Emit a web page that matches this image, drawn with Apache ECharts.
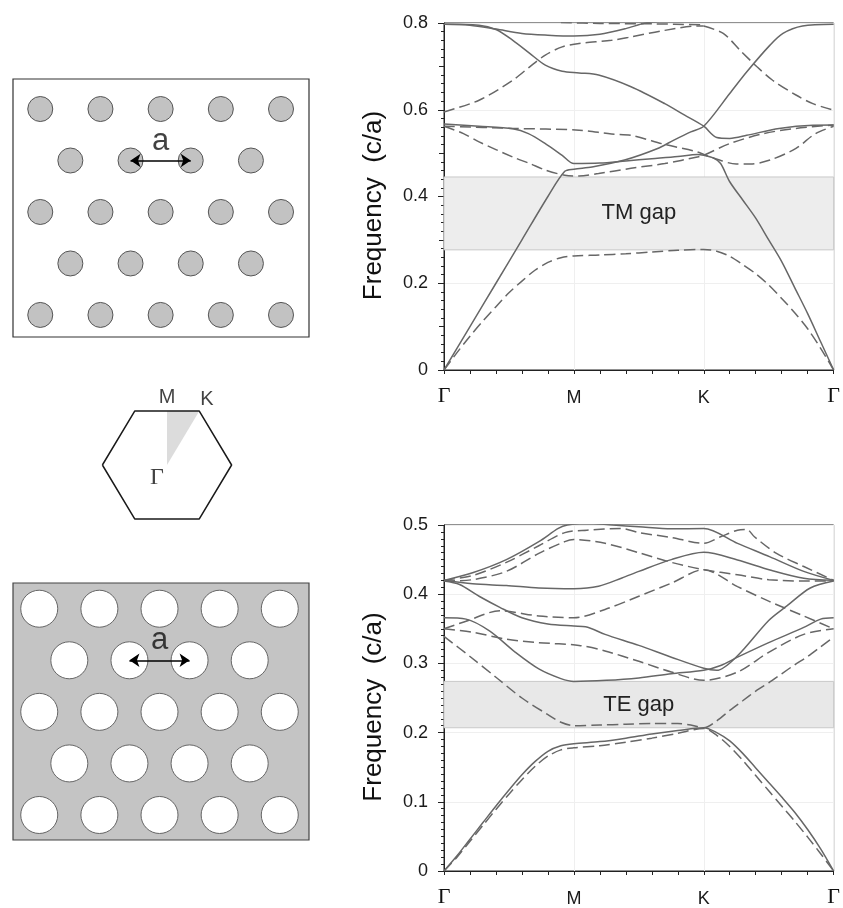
<!DOCTYPE html>
<html>
<head>
<meta charset="utf-8">
<script src="https://cdn.jsdelivr.net/npm/echarts@6/dist/echarts.min.js"></script>
<style>
html,body{margin:0;padding:0;background:#fff;}
#c{width:843px;height:908px;}
</style>
</head>
<body>
<div id="c"></div>
<script>
// ---------- DATA ----------
const pathTicks = ['Γ', 'M', 'K', 'Γ'];
const tmGap = [0.277, 0.445];
const teGap = [0.207, 0.274];

// TM-type plot (dielectric rods) : solid / dashed bands
const rodSolid1 = [[0,0],[0.2,0.1],[0.4,0.2],[0.6,0.3],[0.8,0.4],[0.93,0.458],[1,0.463],[1.14,0.468],[1.39,0.484],[1.64,0.51],[1.77,0.53],[1.9,0.549],[2,0.562],[2.2,0.6375],[2.33,0.687],[2.51,0.749],[2.61,0.776],[2.76,0.793],[3,0.797]];
const rodSolid2 = [[0,0.567],[0.27,0.562],[0.53,0.556],[0.65,0.545],[0.78,0.522],[0.91,0.495],[1,0.476],[1.2,0.477],[1.4,0.482],[1.6,0.487],[1.8,0.492],[1.95,0.497],[2,0.495],[2.08,0.488],[2.13,0.476],[2.2,0.434],[2.3,0.392],[2.4,0.35],[2.5,0.30],[2.6,0.25],[2.7,0.19],[2.8,0.13],[2.9,0.065],[3,0]];
const rodSolid3 = [[0,0.797],[0.27,0.795],[0.4,0.785],[0.53,0.76],[0.66,0.73],[0.78,0.703],[0.91,0.689],[1.04,0.685],[1.19,0.68],[1.44,0.653],[1.7,0.614],[1.85,0.588],[2,0.562],[2.1,0.536],[2.2,0.534],[2.33,0.541],[2.58,0.557],[2.84,0.5645],[3,0.565]];
const rodSolid4 = [[0,0.797],[0.2,0.795],[0.4,0.786],[0.6,0.776],[0.8,0.772],[1,0.77],[1.2,0.774],[1.4,0.787],[1.55,0.8],[1.7,0.805]];
const rodDash1 = [[0,0],[0.1,0.04],[0.2,0.078],[0.3,0.113],[0.4,0.146],[0.5,0.178],[0.6,0.205],[0.7,0.23],[0.8,0.248],[0.9,0.259],[1,0.263],[1.2,0.265],[1.4,0.268],[1.6,0.272],[1.8,0.276],[2,0.278],[2.1,0.274],[2.2,0.262],[2.3,0.243],[2.4,0.222],[2.5,0.196],[2.6,0.165],[2.7,0.132],[2.8,0.095],[2.9,0.05],[3,0]];
const rodDash2 = [[0,0.562],[0.15,0.545],[0.27,0.526],[0.53,0.491],[0.66,0.476],[0.78,0.461],[0.93,0.449],[1.04,0.447],[1.19,0.453],[1.44,0.465],[1.7,0.476],[1.95,0.491],[2,0.495],[2.2,0.522],[2.46,0.545],[2.71,0.557],[3,0.565]];
const rodDash3 = [[0,0.562],[0.53,0.557],[1.04,0.553],[1.29,0.544],[1.44,0.541],[1.7,0.52],[1.95,0.503],[2,0.497],[2.08,0.488],[2.25,0.475],[2.36,0.475],[2.51,0.484],[2.71,0.511],[2.86,0.545],[3,0.562]];
const rodDash4 = [[0,0.595],[0.27,0.622],[0.53,0.668],[0.66,0.699],[0.78,0.726],[0.91,0.745],[1.04,0.753],[1.29,0.76],[1.44,0.768],[1.7,0.783],[1.95,0.793],[2,0.793]];
const rodDash5 = [[2,0.793],[2.15,0.776],[2.28,0.737],[2.41,0.699],[2.53,0.668],[2.71,0.634],[2.84,0.614],[3,0.599]];
const rodDash6 = [[0.9,0.801],[1.2,0.799],[1.6,0.798],[2,0.796]];

// TE-type plot (air holes)
const holeSolid1 = [[0,0],[0.1,0.022],[0.2,0.046],[0.3,0.07],[0.4,0.094],[0.5,0.117],[0.6,0.139],[0.7,0.158],[0.8,0.173],[0.9,0.181],[1,0.184],[1.2,0.187],[1.4,0.192],[1.6,0.198],[1.8,0.203],[2,0.207],[2.1,0.2],[2.2,0.188],[2.3,0.17],[2.4,0.149],[2.5,0.128],[2.6,0.107],[2.7,0.085],[2.8,0.06],[2.9,0.032],[3,0]];
const holeSolid2 = [[0,0.419],[0.12,0.414],[0.27,0.397],[0.43,0.381],[0.6,0.366],[0.8,0.357],[1,0.354],[1.09,0.353],[1.24,0.342],[1.5,0.326],[1.75,0.309],[2,0.293],[2.1,0.29],[2.26,0.311],[2.5,0.362],[2.64,0.383],[2.82,0.409],[3,0.419]];
const holeSolid3 = [[0,0.366],[0.17,0.364],[0.35,0.347],[0.55,0.316],[0.73,0.292],[0.9,0.278],[1,0.274],[1.25,0.2755],[1.5,0.279],[1.75,0.285],[2,0.29],[2.13,0.297],[2.26,0.309],[2.5,0.33],[2.77,0.352],[2.9,0.364],[3,0.366]];
const holeSolid4 = [[0,0.42],[0.22,0.415],[0.48,0.4125],[0.73,0.409],[1,0.408],[1.19,0.4115],[1.37,0.4235],[1.5,0.433],[1.75,0.45],[2,0.4605],[2.26,0.4495],[2.51,0.435],[2.77,0.423],[3,0.42]];
const holeSolid5 = [[0,0.42],[0.22,0.431],[0.48,0.45],[0.73,0.476],[0.88,0.495],[0.95,0.5],[1.1,0.503],[1.3,0.5],[1.5,0.4975],[1.75,0.4945],[2,0.495],[2.26,0.4735],[2.51,0.454],[2.77,0.433],[3,0.42]];
const holeDash1 = [[0,0],[0.1,0.02],[0.2,0.043],[0.3,0.066],[0.4,0.089],[0.5,0.111],[0.6,0.132],[0.7,0.151],[0.8,0.166],[0.9,0.175],[1,0.178],[1.2,0.181],[1.4,0.186],[1.6,0.192],[1.8,0.199],[2,0.206],[2.1,0.196],[2.2,0.18],[2.3,0.16],[2.4,0.138],[2.5,0.116],[2.6,0.094],[2.7,0.072],[2.8,0.049],[2.9,0.025],[3,0]];
const holeDash2 = [[0,0.339],[0.2,0.31],[0.4,0.28],[0.6,0.25],[0.8,0.226],[0.9,0.215],[1,0.21],[1.2,0.211],[1.4,0.212],[1.6,0.213],[1.8,0.213],[1.9,0.211],[2,0.207],[2.1,0.217],[2.2,0.232],[2.3,0.246],[2.4,0.26],[2.5,0.272],[2.6,0.285],[2.7,0.298],[2.8,0.31],[2.9,0.324],[3,0.338]];
const holeDash3 = [[0,0.35],[0.22,0.345],[0.48,0.335],[0.73,0.33],[1.04,0.326],[1.24,0.318],[1.5,0.303],[1.75,0.2875],[2,0.2755],[2.26,0.2875],[2.5,0.316],[2.77,0.342],[3,0.35]];
const holeDash4 = [[0,0.35],[0.17,0.361],[0.43,0.376],[0.73,0.3685],[1,0.366],[1.24,0.378],[1.5,0.397],[1.75,0.416],[2,0.4355],[2.26,0.411],[2.5,0.39],[2.77,0.3685],[3,0.35]];
const holeDash5 = [[0,0.419],[0.22,0.421],[0.48,0.433],[0.73,0.459],[0.93,0.476],[1,0.479],[1.24,0.4735],[1.5,0.46],[1.75,0.446],[2,0.4355],[2.26,0.428],[2.5,0.421],[2.77,0.419],[3,0.419]];
const holeDash6 = [[0,0.42],[0.22,0.427],[0.48,0.446],[0.73,0.47],[0.93,0.489],[1.1,0.4925],[1.37,0.495],[1.5,0.489],[1.75,0.482],[2,0.4735],[2.13,0.483],[2.26,0.4925],[2.33,0.4935],[2.39,0.483],[2.56,0.459],[2.77,0.44],[3,0.42]];

// triangular lattice sites (units of a)
const latticeSites = [
  [0,0],[1,0],[2,0],[3,0],[4,0],
  [0.5,0.866],[1.5,0.866],[2.5,0.866],[3.5,0.866],
  [0,1.732],[1,1.732],[2,1.732],[3,1.732],[4,1.732],
  [0.5,2.598],[1.5,2.598],[2.5,2.598],[3.5,2.598],
  [0,3.464],[1,3.464],[2,3.464],[3,3.464],[4,3.464]
];
const arrowCoords = [[1.5,0.866],[2.5,0.866]];
const arrowLabelPos = [2.0,0.866];
// Brillouin zone
const hexVertices = [[-1,0],[-0.5,0.866],[0.5,0.866],[1,0],[0.5,-0.866],[-0.5,-0.866],[-1,0]];
const ibzTriangle = [[0,0],[0,0.866],[0.5,0.866]];
const bzPoints = [{name:'M', pos:[0,0.866]},{name:'K', pos:[0.5,0.866]},{name:'Γ', pos:[0,0]}];

// ---------- CHART ----------
const SANS = 'Liberation Sans, Arial, sans-serif';
const SERIF = 'Liberation Serif, Times New Roman, serif';
const LINE = '#676767';

function xBandAxis(gi){
  return {
    type:'value', gridIndex: gi, min:0, max:3, interval:1,
    axisLine:{show:true, onZero:false, lineStyle:{color:'#222', width:1}},
    axisTick:{show:true, length:4, lineStyle:{color:'#222'}},
    minorTick:{show:true, splitNumber:5, length:4, lineStyle:{color:'#222'}},
    splitLine:{show:true, lineStyle:{color:'#efefef', width:1}},
    axisLabel:{
      margin:15, fontSize:18, fontFamily:SANS, color:'#1a1a1a',
      formatter: v => { const t = pathTicks[Math.round(v)]; return t === 'Γ' ? '{g|Γ}' : '{s|' + t + '}'; },
      rich:{
        g:{fontFamily:SERIF, fontSize:22, color:'#111'},
        s:{fontFamily:SANS, fontSize:18, color:'#1a1a1a', padding:[4,0,0,0]}
      }
    }
  };
}
function yName(){
  return {name:'Frequency  (c/a)', nameLocation:'middle', nameGap:57,
    nameTextStyle:{fontFamily:SANS, fontSize:26, color:'#111', padding:[0,18,0,0]}};
}

function band(data, dashed, xi, yi){
  return {type:'line', xAxisIndex:xi, yAxisIndex:yi, data:data, symbol:'none', smooth:0.3,
    silent:true, z:3, clip:true,
    lineStyle:{color:LINE, width:1.5, type: dashed ? [11,5] : 'solid'}};
}

const series = [];
// gap regions
series.push({type:'line', xAxisIndex:0, yAxisIndex:0, data:[], symbol:'none', silent:true,
  markArea:{silent:true, itemStyle:{color:'#ededed', borderColor:'#c9c9c9', borderWidth:1},
    label:{show:true, position:'inside', formatter:'TM gap', fontFamily:SANS, fontSize:22, color:'#222'},
    data:[[{yAxis:tmGap[0]},{yAxis:tmGap[1]}]]}});
series.push({type:'line', xAxisIndex:1, yAxisIndex:2, data:[], symbol:'none', silent:true,
  markArea:{silent:true, itemStyle:{color:'#e8e8e8', borderColor:'#c9c9c9', borderWidth:1},
    label:{show:true, position:'inside', formatter:'TE gap', fontFamily:SANS, fontSize:22, color:'#222'},
    data:[[{yAxis:teGap[0]},{yAxis:teGap[1]}]]}});

[rodSolid1, rodSolid2, rodSolid3, rodSolid4].forEach(d => series.push(band(d,false,0,0)));
[rodDash1, rodDash2, rodDash3, rodDash4, rodDash5, rodDash6].forEach(d => series.push(band(d,true,0,0)));
[holeSolid1, holeSolid2, holeSolid3, holeSolid4, holeSolid5].forEach(d => series.push(band(d,false,1,2)));
[holeDash1, holeDash2, holeDash3, holeDash4, holeDash5, holeDash6].forEach(d => series.push(band(d,true,1,2)));

// rods lattice
series.push({type:'scatter', xAxisIndex:2, yAxisIndex:3, data:latticeSites, symbol:'circle', symbolSize:25, silent:true,
  itemStyle:{color:'#c2c2c2', borderColor:'#555', borderWidth:1, opacity:1}});
// holes lattice
series.push({type:'scatter', xAxisIndex:4, yAxisIndex:5, data:latticeSites, symbol:'circle', symbolSize:37, silent:true,
  itemStyle:{color:'#ffffff', borderColor:'#666', borderWidth:1, opacity:1}});
// arrows + labels
[[2,3],[4,5]].forEach(([xi,yi]) => {
  series.push({type:'lines', coordinateSystem:'cartesian2d', xAxisIndex:xi, yAxisIndex:yi, silent:true, z:5,
    symbol:['arrow','arrow'], symbolSize:[10,10],
    lineStyle:{color:'#000', width:1.5, opacity:1, curveness:0},
    data:[{coords:arrowCoords}]});
  series.push({type:'scatter', xAxisIndex:xi, yAxisIndex:yi, data:[arrowLabelPos], symbolSize:0, silent:true, z:6,
    label:{show:true, position:'top', distance:4, formatter:'a', fontFamily:SANS, fontSize:31, color:'#111'}});
});
// Brillouin zone
series.push({type:'custom', xAxisIndex:3, yAxisIndex:4, data:[[0,0]], silent:true, z:2,
  renderItem:(params, api) => ({type:'polygon', shape:{points: ibzTriangle.map(p => api.coord(p))}, style:{fill:'#dcdcdc'}})});
series.push({type:'line', xAxisIndex:3, yAxisIndex:4, data:hexVertices, symbol:'none', silent:true, z:3,
  lineStyle:{color:'#1a1a1a', width:1.5}});
series.push({type:'scatter', xAxisIndex:3, yAxisIndex:4, symbolSize:0, silent:true, z:4,
  data: bzPoints.map(p => {
    let lab;
    if (p.name === 'M') lab = {position:'top', distance:4, fontFamily:SANS, fontSize:20};
    else if (p.name === 'K') lab = {position:'right', distance:1, offset:[0,-12], fontFamily:SANS, fontSize:20};
    else lab = {position:'bottom', distance:1, offset:[-10,0], fontFamily:SERIF, fontSize:24};
    return {value:p.pos, label:Object.assign({show:true, formatter:p.name, color:'#111'}, lab)};
  })});

const hidden = (gi, min, max, inverse) => ({type:'value', gridIndex:gi, min, max, inverse:!!inverse, show:false,
  axisLine:{show:false}, splitLine:{show:false}, axisTick:{show:false}, axisLabel:{show:false}});

const yLabelStyle = {margin:16, fontFamily:SANS, fontSize:18, color:'#1a1a1a'};

const option = {
  animation:false,
  backgroundColor:'#ffffff',
  grid:[
    {left:444, top:23, width:394, height:347, show:true, borderColor:'#222', borderWidth:1, backgroundColor:'#fff'},
    {left:444, top:525, width:393, height:349, show:true, borderColor:'#222', borderWidth:1, backgroundColor:'#fff'},
    {left:13, top:79, width:296, height:258, show:true, borderColor:'#333', borderWidth:1.2, backgroundColor:'#fff'},
    {left:83, top:384, width:168, height:162},
    {left:13, top:583, width:296, height:257, show:true, borderColor:'#444', borderWidth:1.2, backgroundColor:'#c4c4c4'}
  ],
  xAxis:[
    xBandAxis(0),
    xBandAxis(1),
    hidden(2, -0.453, 4.465),
    hidden(3, -1.3, 1.3),
    hidden(4, -0.4365, 4.486)
  ],
  yAxis:[
    Object.assign({type:'value', gridIndex:0, min:0, max:0.8, interval:0.2,
      axisLine:{show:true, onZero:false, lineStyle:{color:'#222'}},
      axisTick:{show:true, length:6, lineStyle:{color:'#222'}},
      minorTick:{show:true, splitNumber:10, length:3, lineStyle:{color:'#222'}},
      splitLine:{show:true, lineStyle:{color:'#efefef'}},
      axisLabel:yLabelStyle}, yName()),
    {type:'value', gridIndex:0, min:0, max:0.8, interval:0.1, position:'left',
      axisLine:{show:false}, axisTick:{show:true, length:5, lineStyle:{color:'#222'}},
      splitLine:{show:false}, axisLabel:{show:false}},
    Object.assign({type:'value', gridIndex:1, min:0, max:0.5, interval:0.1,
      axisLine:{show:true, onZero:false, lineStyle:{color:'#222'}},
      axisTick:{show:true, length:6, lineStyle:{color:'#222'}},
      minorTick:{show:true, splitNumber:10, length:3, lineStyle:{color:'#222'}},
      splitLine:{show:true, lineStyle:{color:'#efefef'}},
      axisLabel:yLabelStyle}, yName()),
    hidden(2, -0.505, 3.835, true),
    hidden(3, -1.3, 1.3),
    hidden(4, -0.432, 3.884, true)
  ],
  series: series
};

const chart = echarts.init(document.getElementById('c'), null, {renderer:'canvas'});
chart.setOption(option);
</script>
</body>
</html>
